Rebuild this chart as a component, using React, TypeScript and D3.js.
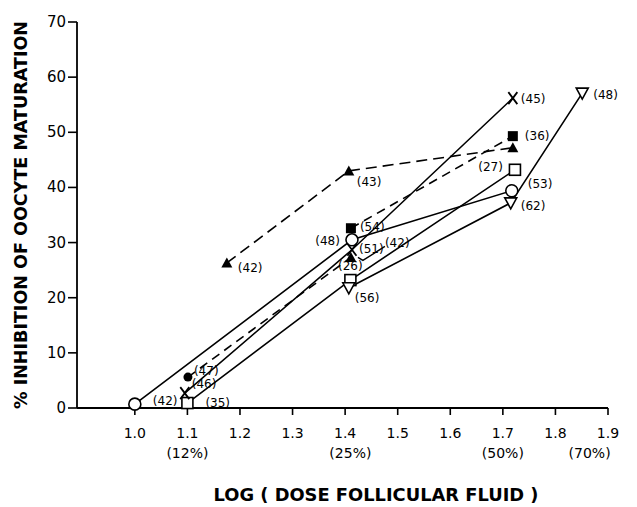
import React from 'react';
import * as d3 from 'd3';

// x axis ticks and the dose percentages written under them
const xTicks = [1.0, 1.1, 1.2, 1.3, 1.4, 1.5, 1.6, 1.7, 1.8, 1.9];
const xTickLabels = ['1.0', '1.1', '1.2', '1.3', '1.4', '1.5', '1.6', '1.7', '1.8', '1.9'];
const doseAt = [1.1, 1.41, 1.70, 1.865];
const doseLabels = ['(12%)', '(25%)', '(50%)', '(70%)'];

const yTicks = [0, 10, 20, 30, 40, 50, 60, 70];

// each experiment: log dose, % inhibition, number of oocytes
const openCircleX = [1.0, 1.413, 1.717];
const openCircleY = [0.7, 30.5, 39.4];
const openCircleN = [42, 48, 53];

const openSquareX = [1.1, 1.41, 1.723];
const openSquareY = [0.9, 23.2, 43.2];
const openSquareN = [35, 26, 27];

const crossX = [1.095, 1.413, 1.719];
const crossY = [2.7, 28.7, 56.2];
const crossN = [46, 51, 45];

const downTriX = [1.407, 1.715, 1.851];
const downTriY = [21.8, 37.2, 57.1];
const downTriN = [56, 62, 48];

const dotTriX = [1.101, 1.411];
const dotTriY = [5.6, 27.3];
const dotTriN = [47, 42];

const fillSquareX = [1.411, 1.719];
const fillSquareY = [32.6, 49.3];
const fillSquareN = [54, 36];

const fillTriX = [1.175, 1.407, 1.719];
const fillTriY = [26.3, 43.0, 47.2];
const fillTriN = [42, 43, null];

type Marker = 'circle' | 'square' | 'cross' | 'down' | 'dot' | 'fsquare' | 'ftri';

function Symbol({ kind, x, y }: { kind: Marker; x: number; y: number }) {
  const t = `translate(${x},${y})`;
  if (kind === 'circle') return <circle cx={x} cy={y} r={6} fill="#fff" stroke="#000" strokeWidth={1.6} />;
  if (kind === 'dot') return <circle cx={x} cy={y} r={4.5} fill="#000" />;
  if (kind === 'square') return <rect x={x - 5.5} y={y - 5.5} width={11} height={11} fill="#fff" stroke="#000" strokeWidth={1.6} />;
  if (kind === 'fsquare') return <rect x={x - 5} y={y - 5} width={10} height={10} fill="#000" />;
  if (kind === 'ftri') return <path transform={t} d="M0,-5.5L5.5,4.5L-5.5,4.5Z" fill="#000" />;
  if (kind === 'down') return <path transform={t} d="M-6,-5L6,-5L0,6Z" fill="#fff" stroke="#000" strokeWidth={1.6} />;
  return <path transform={t} d="M-4.5,-6L4.5,6M4.5,-6L-4.5,6" fill="none" stroke="#000" strokeWidth={1.8} />;
}

export default function App() {
  const width = 637;
  const height = 507;
  const x = d3.scaleLinear().domain([0.89, 1.9]).range([77, 608]);
  const y = d3.scaleLinear().domain([0, 70]).range([408, 22]);

  // label offsets are per point: [dx, dy, anchor]
  const series = [
    { xs: openCircleX, ys: openCircleY, ns: openCircleN, marks: ['circle', 'circle', 'circle'], dash: null,
      lab: [[18, -4, 'start'], [-12, 1, 'end'], [16, -7, 'start']] },
    { xs: openSquareX, ys: openSquareY, ns: openSquareN, marks: ['square', 'square', 'square'], dash: null,
      lab: [[18, -1, 'start'], [0, -15, 'middle'], [-12, -3, 'end']] },
    { xs: crossX, ys: crossY, ns: crossN, marks: ['cross', 'cross', 'cross'], dash: null,
      lab: [[7, -10, 'start'], [7, -1, 'start'], [8, 0, 'start']] },
    { xs: downTriX, ys: downTriY, ns: downTriN, marks: ['down', 'down', 'down'], dash: null,
      lab: [[6, 10, 'start'], [10, 3, 'start'], [11, 1, 'start']] },
    { xs: dotTriX, ys: dotTriY, ns: dotTriN, marks: ['dot', 'ftri'], dash: '9,6',
      lab: [[6, -7, 'start'], [34, -15, 'start']] },
    { xs: fillSquareX, ys: fillSquareY, ns: fillSquareN, marks: ['fsquare', 'fsquare'], dash: '9,6',
      lab: [[9, -2, 'start'], [12, -1, 'start']] },
    { xs: fillTriX, ys: fillTriY, ns: fillTriN, marks: ['ftri', 'ftri', 'ftri'], dash: '11,6',
      lab: [[11, 5, 'start'], [8, 11, 'start'], [0, 0, 'start']] },
  ];

  const line = d3.line<[number, number]>().x(d => x(d[0])).y(d => y(d[1]));

  // leader from the "(42)" label down to the filled triangle at 1.4
  const lx = x(dotTriX[1]);
  const ly = y(dotTriY[1]);

  return (
    <svg width={width} height={height} style={{ position: 'absolute', left: 0, top: 0, background: '#fff' }}
      fontFamily="'DejaVu Sans', sans-serif">
      {/* axes */}
      <line x1={x(0.89)} x2={x(0.89)} y1={y(70)} y2={y(0)} stroke="#000" strokeWidth={1.8} />
      <line x1={x(0.89)} x2={x(1.9)} y1={y(0)} y2={y(0)} stroke="#000" strokeWidth={1.8} />
      {yTicks.map(t => (
        <g key={t}>
          <line x1={x(0.89) - 9} x2={x(0.89)} y1={y(t)} y2={y(t)} stroke="#000" strokeWidth={1.6} />
          <text x={x(0.89) - 11} y={y(t) + 5} textAnchor="end" fontSize={15}>{t}</text>
        </g>
      ))}
      {xTicks.map((t, i) => (
        <g key={t}>
          <line x1={x(t)} x2={x(t)} y1={y(0)} y2={y(0) + 7} stroke="#000" strokeWidth={1.6} />
          <text x={x(t)} y={y(0) + 30} textAnchor="middle" fontSize={14}>{xTickLabels[i]}</text>
        </g>
      ))}
      {doseLabels.map((d, i) => (
        <text key={d} x={x(doseAt[i])} y={y(0) + 50} textAnchor="middle" fontSize={14}>{d}</text>
      ))}
      <text transform="translate(376,501) scale(1,1.12)" textAnchor="middle" fontSize={16.5} fontWeight="bold"
        textLength={325} lengthAdjust="spacingAndGlyphs">LOG ( DOSE FOLLICULAR FLUID )</text>
      <text transform="translate(27,215) rotate(-90) scale(1,1.12)" textAnchor="middle" fontSize={16.5} fontWeight="bold"
        textLength={388} lengthAdjust="spacingAndGlyphs">% INHIBITION OF OOCYTE MATURATION</text>

      {/* lines */}
      {series.map((s, i) => (
        <path key={'l' + i} d={line(s.xs.map((v, j) => [v, s.ys[j]] as [number, number])) || ''}
          fill="none" stroke="#000" strokeWidth={1.6} strokeDasharray={s.dash || undefined} />
      ))}
      <path d={`M${lx + 34},${ly - 11}L${lx + 12},${ly + 3}L${lx + 7},${ly}`} fill="none" stroke="#000" strokeWidth={1.4} />

      {/* markers and n labels */}
      {series.map((s, i) => (
        <g key={'m' + i}>
          {s.xs.map((v, j) => (
            <Symbol key={j} kind={s.marks[j] as Marker} x={x(v)} y={y(s.ys[j])} />
          ))}
          {s.xs.map((v, j) => s.ns[j] == null ? null : (
            <text key={'t' + j} x={x(v) + (s.lab[j][0] as number)} y={y(s.ys[j]) + (s.lab[j][1] as number) + 4.5}
              textAnchor={s.lab[j][2] as any} fontSize={12}>({s.ns[j]})</text>
          ))}
        </g>
      ))}
    </svg>
  );
}
